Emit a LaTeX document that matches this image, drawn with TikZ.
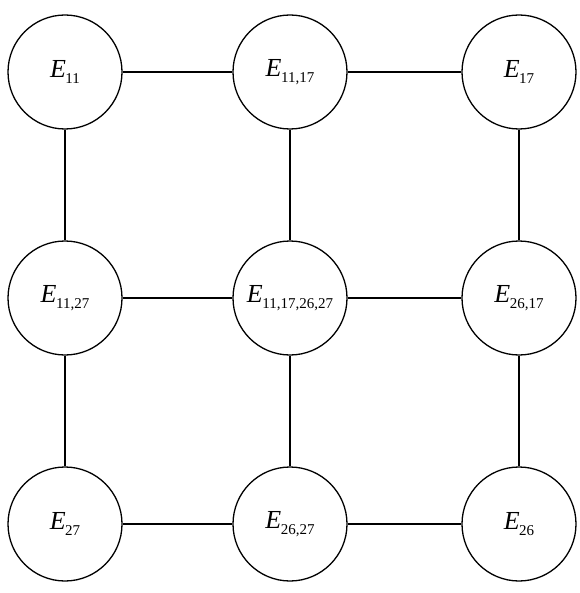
\documentclass[tikz,border=0pt]{standalone}
\usepackage{fontspec}
\setmainfont{Liberation Serif}
\newcommand{\elab}[1]{\textit{E}\kern-0.5pt\raisebox{-0.5ex}{\fontsize{15}{15}\selectfont #1}}
\begin{document}
\begin{tikzpicture}[x=1pt,y=-1pt,
  state/.style={circle,draw,line width=1.3pt,minimum size=114pt,inner sep=0pt,
    font=\fontsize{26}{26}\selectfont},
  link/.style={line width=1.1pt}]
\useasboundingbox (0,0) rectangle (579,593);
% grid of states
\node[state] (a11) at (65,72)  {\elab{11}};
\node[state] (a12) at (290,72) {\elab{11,17}};
\node[state] (a13) at (519,72) {\elab{17}};
\node[state] (a21) at (65,298)  {\elab{11,27}};
\node[state] (a22) at (290,298) {\elab{11,17,26,27}};
\node[state] (a23) at (519,298) {\elab{26,17}};
\node[state] (a31) at (65,524)  {\elab{27}};
\node[state] (a32) at (290,524) {\elab{26,27}};
\node[state] (a33) at (519,524) {\elab{26}};
% horizontal links
\draw[link] (a11) -- (a12);
\draw[link] (a12) -- (a13);
\draw[link] (a21) -- (a22);
\draw[link] (a22) -- (a23);
\draw[link] (a31) -- (a32);
\draw[link] (a32) -- (a33);
% vertical links
\draw[link] (a11) -- (a21);
\draw[link] (a21) -- (a31);
\draw[link] (a12) -- (a22);
\draw[link] (a22) -- (a32);
\draw[link] (a13) -- (a23);
\draw[link] (a23) -- (a33);
\end{tikzpicture}
\end{document}
